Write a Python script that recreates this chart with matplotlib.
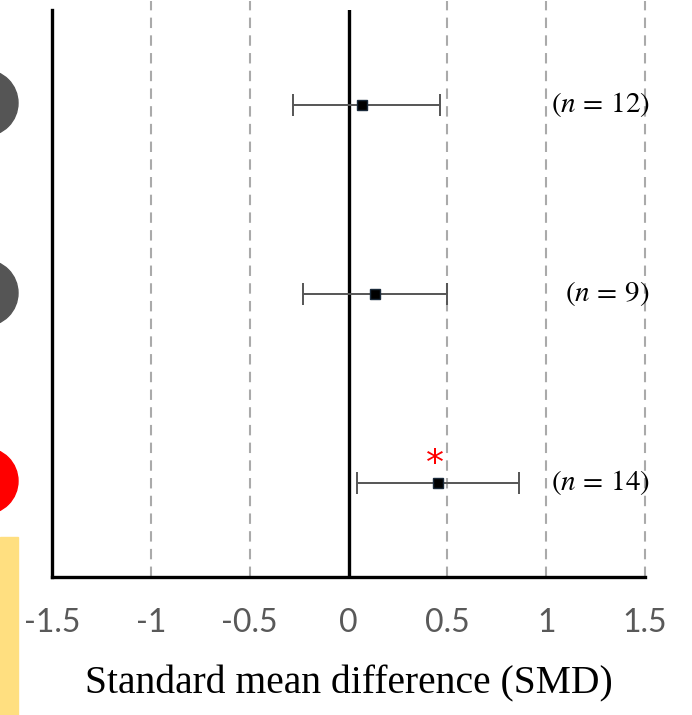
#!/usr/bin/env python3
import matplotlib
matplotlib.use('Agg')
import matplotlib.pyplot as plt
from matplotlib.patches import Ellipse, Rectangle

# forest plot data (top to bottom)
smd = [0.07, 0.135, 0.455]
ci_low = [-0.28, -0.23, 0.045]
ci_high = [0.465, 0.50, 0.865]
n_labels = ['$(n\\,=\\,12)$', '$(n\\,=\\,9)$', '$(n\\,=\\,14)$']
significant = [False, False, True]
dot_colors = ['#555555', '#555555', '#ff0000']
xticks = [-1.5, -1, -0.5, 0, 0.5, 1, 1.5]
xticklabels = ['-1.5', '-1', '-0.5', '0', '0.5', '1', '1.5']

plt.rcParams['mathtext.fontset'] = 'stix'

W, H = 692, 715
fig = plt.figure(figsize=(W / 100, H / 100), dpi=100)
ax = fig.add_axes([52 / W, 1 - 577 / H, (645 - 52) / W, (577 - 10) / H])

ypos = [3, 2, 1]

# dashed reference lines
for x in [-1, -0.5, 0.5, 1, 1.5]:
    ax.plot([x, x], [0.5, 3.55], color='#aaaaaa', lw=1.5, ls=(0, (5, 3.5)),
            clip_on=False, zorder=1)
ax.axvline(0, color='black', lw=2.4, zorder=2)

for i, y in enumerate(ypos):
    ax.errorbar(smd[i], y,
                xerr=[[smd[i] - ci_low[i]], [ci_high[i] - smd[i]]],
                fmt='s', color='black', ms=7, mec='#1a2a3a',
                ecolor='#555555', elinewidth=1.4, capsize=8, capthick=1.4,
                zorder=3)
    ax.text(1.525, y, n_labels[i], ha='right', va='center', fontsize=21,
            color='black', zorder=4)
    if significant[i]:
        ax.text(smd[i] - 0.02, y + 0.1, '*', ha='center', va='center',
                fontsize=26, color='red')

ax.set_xlim(-1.5, 1.5)
ax.set_ylim(0.5, 3.5)
ax.set_yticks([])
ax.set_xticks(xticks)
ax.set_xticklabels(xticklabels, fontsize=23, color='#595959', family='Lato')
ax.tick_params(axis='x', length=0, pad=22)
for s in ['top', 'right']:
    ax.spines[s].set_visible(False)
ax.spines['left'].set_linewidth(2.4)
ax.spines['bottom'].set_linewidth(2.4)
ax.set_xlabel('Standard mean difference (SMD)', fontsize=28.5,
              family='Liberation Serif', labelpad=20)

# decorations cut off at the left edge
r = 33
for i, yp in enumerate([103, 293, 481]):
    fig.patches.append(Ellipse(((18 - r) / W, 1 - yp / H), 2 * r / W, 2 * r / H,
                               transform=fig.transFigure, color=dot_colors[i]))
fig.patches.append(Rectangle((0, 0), 18 / W, 1 - 537 / H,
                             transform=fig.transFigure, color='#ffdf80'))

fig.savefig('out.png', dpi=100)
